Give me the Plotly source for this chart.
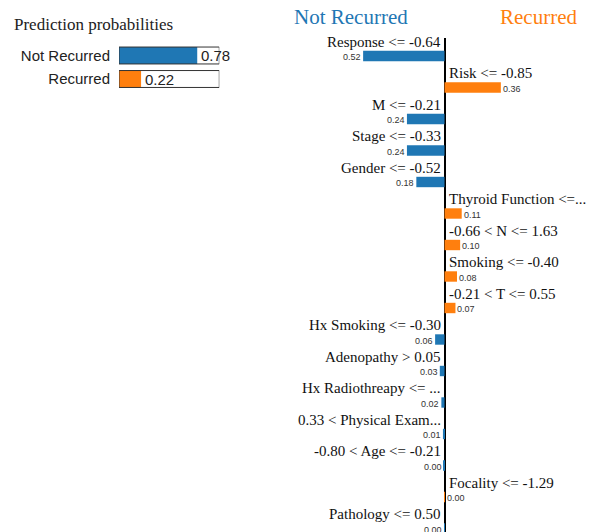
import plotly.graph_objects as go

# LIME explanation values
features = ["Response &lt;= -0.64", "Risk &lt;= -0.85", "M &lt;= -0.21", "Stage &lt;= -0.33",
            "Gender &lt;= -0.52", "Thyroid Function &lt;=...", "-0.66 &lt; N &lt;= 1.63",
            "Smoking &lt;= -0.40", "-0.21 &lt; T &lt;= 0.55", "Hx Smoking &lt;= -0.30",
            "Adenopathy &gt; 0.05", "Hx Radiothreapy &lt;= ...", "0.33 &lt; Physical Exam...",
            "-0.80 &lt; Age &lt;= -0.21", "Focality &lt;= -1.29", "Pathology &lt;= 0.50"]
weights = [-0.52, 0.36, -0.24, -0.24, -0.18, 0.11, 0.10, 0.08, 0.07,
           -0.06, -0.03, -0.02, -0.01, -0.004, 0.002, -0.002]

classes = ["Not Recurred", "Recurred"]
probs = [0.78, 0.22]

BLUE = "#1f77b4"
ORANGE = "#ff7f0e"
W, H = 595, 532

rows = list(range(len(features)))
colors = [BLUE if w < 0 else ORANGE for w in weights]

fig = go.Figure()

# explanation bars
fig.add_trace(go.Bar(x=weights, y=rows, orientation="h", width=0.33,
                     marker=dict(color=colors, line=dict(width=0)),
                     hoverinfo="skip", xaxis="x", yaxis="y"))

# prediction probabilities
fig.add_trace(go.Bar(x=probs, y=[0, 1], orientation="h", width=0.72,
                     marker=dict(color=[BLUE, ORANGE], line=dict(width=0)),
                     hoverinfo="skip", xaxis="x2", yaxis="y2"))
fig.add_trace(go.Bar(x=[1, 1], y=[0, 1], orientation="h", width=0.72,
                     marker=dict(color="rgba(0,0,0,0)", line=dict(color="#333", width=1)),
                     hoverinfo="skip", xaxis="x2", yaxis="y2"))

serif = "Liberation Serif, Times New Roman, serif"
sans = "Liberation Sans, Arial, sans-serif"
ann = []
for i, (f, w) in enumerate(zip(features, weights)):
    neg = w < 0
    ann.append(dict(x=0, y=i - 0.45, xref="x", yref="y", text=f, showarrow=False,
                    xanchor="right" if neg else "left", yanchor="middle",
                    xshift=-2 if neg else 2,
                    font=dict(family=serif, size=15, color="#111")))
    ann.append(dict(x=w, y=i + 0.04, xref="x", yref="y", text=f"{abs(w):.2f}", showarrow=False,
                    xanchor="right" if neg else "left", yanchor="middle",
                    xshift=0,
                    font=dict(family=sans, size=9, color="#333")))

for i, p in enumerate(probs):
    ann.append(dict(x=p, y=i, xref="x2", yref="y2", text=f"{p:.2f}", showarrow=False,
                    xanchor="left", yanchor="middle", xshift=2,
                    font=dict(family=sans, size=15, color="#222")))

ann.append(dict(x=11.7 / W, y=1 - 24 / H, xref="paper", yref="paper", text="Prediction probabilities",
                showarrow=False, xanchor="left", yanchor="middle",
                font=dict(family=serif, size=17, color="#222")))
ann.append(dict(x=291.7 / W, y=1 - 17 / H, xref="paper", yref="paper", text="Not Recurred",
                showarrow=False, xanchor="left", yanchor="middle",
                font=dict(family=serif, size=21, color=BLUE)))
ann.append(dict(x=579 / W, y=1 - 17 / H, xref="paper", yref="paper", text="Recurred",
                showarrow=False, xanchor="right", yanchor="middle",
                font=dict(family=serif, size=21, color=ORANGE)))

zero_px = 444.5
scale = 156.5
row0_px = 56
row_h = 31.5
top_px = 38

fig.update_layout(
    width=W, height=H,
    margin=dict(l=0, r=0, t=0, b=0),
    paper_bgcolor="white", plot_bgcolor="white",
    showlegend=False, barmode="overlay",
    xaxis=dict(domain=[0, 1], range=[-zero_px / scale, (W - zero_px) / scale],
               showgrid=False, showticklabels=False, ticks="", showline=False,
               zeroline=True, zerolinecolor="black", zerolinewidth=2, fixedrange=True),
    yaxis=dict(domain=[0, 1 - top_px / H],
               range=[(H - row0_px) / row_h, (top_px - row0_px) / row_h],
               visible=False, fixedrange=True),
    xaxis2=dict(domain=[119 / W, 219.3 / W], range=[0, 1], anchor="y2",
                visible=False, fixedrange=True),
    yaxis2=dict(domain=[1 - 90.75 / H, 1 - 43.75 / H], range=[1.5, -0.5], anchor="x2",
                tickvals=[0, 1], ticktext=classes, ticks="", showgrid=False, showline=False,
                zeroline=False, ticklabelstandoff=8,
                tickfont=dict(family=sans, size=15, color="#222"), fixedrange=True),
    annotations=ann,
)

fig.write_html("out.html", config={"displayModeBar": False},
               post_script="document.body.style.margin='0';document.body.style.overflow='hidden';")
